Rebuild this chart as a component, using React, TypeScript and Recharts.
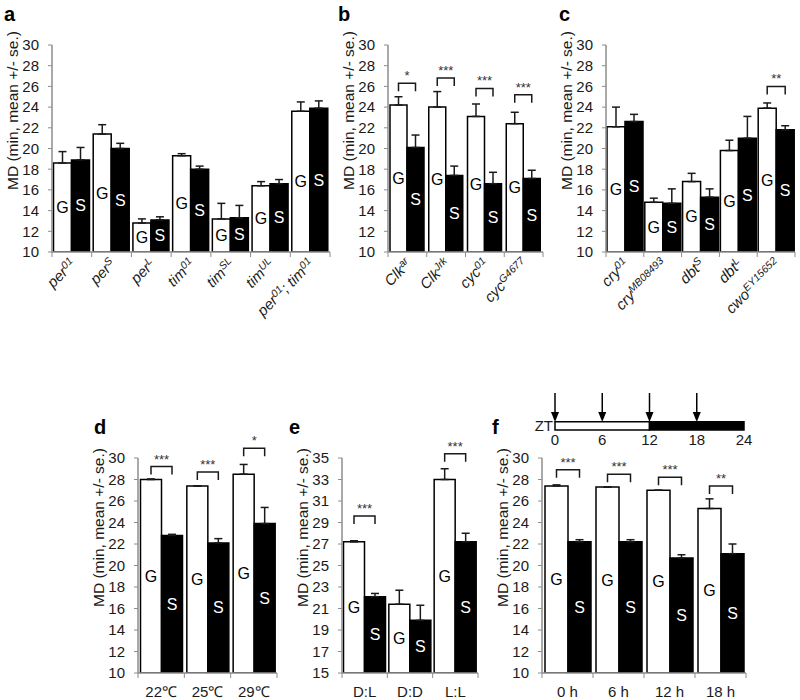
import React from 'react';
import {
  BarChart, Bar, XAxis, YAxis, ErrorBar, LabelList,
  ComposedChart, Line, ReferenceLine, ReferenceArea,
} from 'recharts';

const FONT = '"Liberation Sans", Arial, sans-serif';
const INK = '#1a1a1a';
const AXIS = '#8c8c8c';
const Y_LABEL = 'MD (min, mean +/- se.)';

// panel a
const aCategories = ['per^{01}', 'per^{S}', 'per^{L}', 'tim^{01}', 'tim^{SL}', 'tim^{UL}', 'per^{01}; tim^{01}'];
const aG = [18.6, 21.4, 12.8, 19.3, 13.2, 16.4, 23.6];
const aGErr = [1.1, 0.9, 0.4, 0.2, 1.5, 0.4, 0.9];
const aS = [18.9, 20.0, 13.1, 18.0, 13.3, 16.6, 23.9];
const aSErr = [1.2, 0.5, 0.3, 0.3, 1.2, 0.4, 0.7];

// panel b
const bCategories = ['Clk^{ar}', 'Clk^{Jrk}', 'cyc^{01}', 'cyc^{G4677}'];
const bG = [24.2, 24.0, 23.1, 22.4];
const bGErr = [0.8, 1.5, 1.2, 1.1];
const bS = [20.1, 17.4, 16.6, 17.1];
const bSErr = [1.2, 0.9, 1.1, 0.8];
const bTop = [26.3, 26.8, 25.8, 25.2];
const bSig = ['*', '***', '***', '***'];

// panel c
const cCategories = ['cry^{01}', 'cry^{MB08493}', 'dbt^{S}', 'dbt^{L}', 'cwo^{EY15652}'];
const cG = [22.1, 14.8, 16.8, 19.8, 23.9];
const cGErr = [1.9, 0.4, 0.8, 1.0, 0.5];
const cS = [22.6, 14.7, 15.3, 21.0, 21.8];
const cSErr = [0.7, 1.4, 0.8, 2.1, 0.4];
const cTop = [null, null, null, null, 26.0];
const cSig = ['', '', '', '', '**'];

// panel d
const dCategories = ['22℃', '25℃', '29℃'];
const dG = [28.0, 27.4, 28.5];
const dGErr = [0.05, 0, 0.9];
const dS = [22.8, 22.1, 23.9];
const dSErr = [0.1, 0.4, 1.5];
const dTop = [29.2, 28.7, 30.9];
const dSig = ['***', '***', '*'];

// panel e
const eCategories = ['D:L', 'D:D', 'L:L'];
const eG = [27.2, 21.4, 33.0];
const eGErr = [0.1, 1.3, 1.0];
const eS = [22.1, 19.9, 27.2];
const eSErr = [0.3, 1.4, 0.8];
const eTop = [29.6, null, 35.4];
const eSig = ['***', '', '***'];

// panel f
const fCategories = ['0 h', '6 h', '12 h', '18 h'];
const fG = [27.4, 27.3, 27.0, 25.3];
const fGErr = [0.1, 0, 0, 0.9];
const fS = [22.2, 22.2, 20.7, 21.1];
const fSErr = [0.2, 0.2, 0.3, 0.9];
const fTop = [28.9, 28.5, 28.2, 27.4];
const fSig = ['***', '***', '***', '**'];

const ticks10 = [10, 12, 14, 16, 18, 20, 22, 24, 26, 28, 30];
const ticks15 = [15, 17, 19, 21, 23, 25, 27, 29, 31, 33, 35];

// ZT schematic
const ztTicks = [0, 6, 12, 18, 24];
const ztArrows = [0, 6, 12, 18];
const ztPhases = [[0, 12], [12, 24]];

type Row = {
  name: string; g: number; gErr: number[]; s: number; sErr: number[];
  top: number | null; sig: string;
};

function makeRows(cats: string[], g: number[], ge: number[], s: number[], se: number[],
  top?: (number | null)[], sig?: string[]): Row[] {
  return cats.map((name, i) => ({
    name, g: g[i], gErr: [0, ge[i]], s: s[i], sErr: [0, se[i]],
    top: top ? top[i] : null, sig: sig ? sig[i] : '',
  }));
}

function parseLabel(label: string) {
  const parts = label.split(/\^\{([^}]*)\}/);
  const out: React.ReactNode[] = [];
  parts.forEach((p, i) => {
    if (!p) return;
    if (i % 2 === 1) {
      out.push(<tspan key={i} dy={-5} fontSize={10.5}>{p}</tspan>);
    } else {
      out.push(<tspan key={i} dy={i === 0 ? 0 : 5}>{p}</tspan>);
    }
  });
  return out;
}

function CatTick(props: any) {
  const { x, y, payload, index, band, n, rotated } = props;
  const lines = [
    <line key="l" x1={x - band / 2} x2={x - band / 2} y1={y} y2={y + 5} stroke={AXIS} />,
  ];
  if (index === n - 1) {
    lines.push(<line key="r" x1={x + band / 2} x2={x + band / 2} y1={y} y2={y + 5} stroke={AXIS} />);
  }
  if (rotated) {
    const ax = x + 5;
    const ay = y + 13;
    return (
      <g>
        {lines}
        <text x={ax} y={ay} transform={`rotate(-45 ${ax} ${ay})`} textAnchor="end"
          fontStyle="italic" fontSize={15} fontFamily={FONT} fill={INK}>
          {parseLabel(payload.value)}
        </text>
      </g>
    );
  }
  return (
    <g>
      {lines}
      <text x={x} y={y + 24} textAnchor="middle" fontSize={15} fontFamily={FONT} fill={INK}>
        {payload.value}
      </text>
    </g>
  );
}

function YLabel({ cx, cy }: { cx: number; cy: number }) {
  return (
    <text x={cx} y={cy} transform={`rotate(-90 ${cx} ${cy})`} textAnchor="middle"
      dominantBaseline="central" fontSize={15.5} fontFamily={FONT} fill={INK}>
      {Y_LABEL}
    </text>
  );
}

function Inside(props: any) {
  const vb = props.viewBox ?? props;
  const { x, y, width, height } = vb;
  return (
    <text x={x + width / 2} y={y + height / 2} textAnchor="middle" dominantBaseline="central"
      fontSize={16} fontFamily={FONT} fill={props.color}>
      {props.text}
    </text>
  );
}

function Bracket(props: any) {
  const { value, index, rows, min } = props;
  if (value == null) return null;
  const vb = props.viewBox ?? props;
  const { x, y, width, height } = vb;
  const row = rows[index];
  const base = y + height;
  const ppu = height / (row.g - min);
  const by = base - (value - min) * ppu;
  const gx = x + width / 2;
  const sx = x + width * 1.5;
  return (
    <g>
      <path d={`M${gx},${by + 8}V${by}H${sx}V${by + 8}`} fill="none" stroke={INK} strokeWidth={1.5} />
      <text x={(gx + sx) / 2} y={by - 3} textAnchor="middle" fontSize={13} fontFamily={FONT} fill="#333">
        {row.sig}
      </text>
    </g>
  );
}

type Box = { left: number; right: number; top: number; bottom: number };

function Panel({ box, domain, ticks, rows, rotated, catGap, padRight = 6 }: {
  box: Box; domain: [number, number]; ticks: number[]; rows: Row[];
  rotated: boolean; catGap: number; padRight?: number;
}) {
  const mTop = 55;
  const yw = 56;
  const left = box.left - yw;
  const top = box.top - mTop;
  const xh = rotated ? 95 : 26;
  const width = box.right - left + padRight;
  const height = box.bottom - top + xh;
  const plotH = box.bottom - box.top;
  const band = (box.right - box.left) / rows.length;
  return (
    <div style={{ position: 'absolute', left, top, width, height }}>
      <BarChart width={width} height={height} data={rows}
        margin={{ top: mTop, right: padRight, bottom: 0, left: 0 }}
        barGap={0} barCategoryGap={catGap}>
        <XAxis dataKey="name" height={xh} interval={0} tickSize={0} tickMargin={0}
          tickLine={false} axisLine={{ stroke: AXIS, strokeWidth: 1.5 }}
          tick={<CatTick band={band} n={rows.length} rotated={rotated} />} />
        <YAxis width={yw} type="number" domain={domain} ticks={ticks} interval={0} allowDataOverflow
          axisLine={{ stroke: AXIS, strokeWidth: 1.5 }} tickLine={{ stroke: AXIS }} tickSize={4} tickMargin={9}
          tick={{ fill: INK, fontSize: 15, fontFamily: FONT }}
          label={<YLabel cx={yw - 40} cy={mTop + plotH / 2 - 38} />} />
        <Bar dataKey="g" fill="#fff" stroke="#000" strokeWidth={1.5} isAnimationActive={false}>
          <ErrorBar dataKey="gErr" width={4} stroke={INK} strokeWidth={1.5} />
          <LabelList dataKey="g" content={<Inside text="G" color="#000" />} />
          <LabelList dataKey="top" content={<Bracket rows={rows} min={domain[0]} />} />
        </Bar>
        <Bar dataKey="s" fill="#000" stroke="#000" strokeWidth={1.5} isAnimationActive={false}>
          <ErrorBar dataKey="sErr" width={4} stroke={INK} strokeWidth={1.5} />
          <LabelList dataKey="s" content={<Inside text="S" color="#fff" />} />
        </Bar>
      </BarChart>
    </div>
  );
}

function Arrow(props: any) {
  const { x1, y1, y2 } = props;
  const yTop = Math.min(y1, y2);
  const yBot = Math.max(y1, y2);
  const tip = yBot - 8;
  return (
    <g>
      <line x1={x1} x2={x1} y1={yTop} y2={tip - 8} stroke="#000" strokeWidth={1.5} />
      <path d={`M${x1 - 4},${tip - 10}L${x1 + 4},${tip - 10}L${x1},${tip}Z`} fill="#000" />
    </g>
  );
}

function ZtSchematic() {
  const left = 525;
  const top = 388;
  return (
    <div style={{ position: 'absolute', left, top, width: 229, height: 64 }}>
      <ComposedChart width={229} height={64} data={ztTicks.map((t) => ({ t, lvl: 0 }))}
        margin={{ top: 5, right: 10, bottom: 0, left: 0 }}>
        <XAxis dataKey="t" type="number" domain={[0, 24]} ticks={ztTicks} height={22}
          axisLine={false} tickLine={false} tickSize={0} tickMargin={4} interval={0}
          tick={{ fill: INK, fontSize: 15, fontFamily: FONT }} />
        <YAxis type="number" domain={[0, 1]} ticks={[0.11]} width={30} axisLine={false} allowDataOverflow
          tickLine={false} tickSize={0} tickMargin={2} tickFormatter={() => 'ZT'}
          tick={{ fill: INK, fontSize: 15, fontFamily: FONT }} />
        <Line dataKey="lvl" stroke="none" dot={false} activeDot={false} isAnimationActive={false} />
        {ztPhases.map(([a, b], i) => (
          <ReferenceArea key={i} x1={a} x2={b} y1={0} y2={0.22} fill={i === 0 ? '#fff' : '#000'}
            fillOpacity={1} stroke="#000" strokeWidth={1.5} ifOverflow="visible" />
        ))}
        {ztArrows.map((v) => (
          <ReferenceLine key={v} x={v} stroke="#000" shape={<Arrow />} ifOverflow="visible" />
        ))}
      </ComposedChart>
    </div>
  );
}

const letters = [
  { t: 'a', x: 4, y: 21 },
  { t: 'b', x: 338, y: 21 },
  { t: 'c', x: 559, y: 21 },
  { t: 'd', x: 94, y: 434 },
  { t: 'e', x: 289, y: 434 },
  { t: 'f', x: 492, y: 434 },
];

export default function App() {
  return (
    <div style={{ position: 'absolute', left: 0, top: 0, width: 800, height: 700, overflow: 'hidden', background: '#fff', fontFamily: FONT }}>
      <Panel box={{ left: 52, right: 330, top: 45, bottom: 252 }} domain={[10, 30]} ticks={ticks10}
        rows={makeRows(aCategories, aG, aGErr, aS, aSErr)} rotated catGap={1.5} />
      <Panel box={{ left: 388, right: 543, top: 45, bottom: 252 }} domain={[10, 30]} ticks={ticks10}
        rows={makeRows(bCategories, bG, bGErr, bS, bSErr, bTop, bSig)} rotated catGap={2} />
      <Panel box={{ left: 606, right: 795, top: 45, bottom: 252 }} domain={[10, 30]} ticks={ticks10}
        rows={makeRows(cCategories, cG, cGErr, cS, cSErr, cTop, cSig)} rotated catGap={1} padRight={4} />
      <Panel box={{ left: 138, right: 277, top: 458, bottom: 673 }} domain={[10, 30]} ticks={ticks10}
        rows={makeRows(dCategories, dG, dGErr, dS, dSErr, dTop, dSig)} rotated={false} catGap={2.5} />
      <Panel box={{ left: 342, right: 478, top: 458, bottom: 673 }} domain={[15, 35]} ticks={ticks15}
        rows={makeRows(eCategories, eG, eGErr, eS, eSErr, eTop, eSig)} rotated={false} catGap={1.5} />
      <Panel box={{ left: 542, right: 746, top: 458, bottom: 673 }} domain={[10, 30]} ticks={ticks10}
        rows={makeRows(fCategories, fG, fGErr, fS, fSErr, fTop, fSig)} rotated={false} catGap={3} />
      <ZtSchematic />
      <svg width={800} height={700} style={{ position: 'absolute', left: 0, top: 0, pointerEvents: 'none' }}>
        {letters.map((l) => (
          <text key={l.t} x={l.x} y={l.y} fontSize={20} fontWeight="bold" fontFamily={FONT} fill="#000">{l.t}</text>
        ))}
      </svg>
    </div>
  );
}
